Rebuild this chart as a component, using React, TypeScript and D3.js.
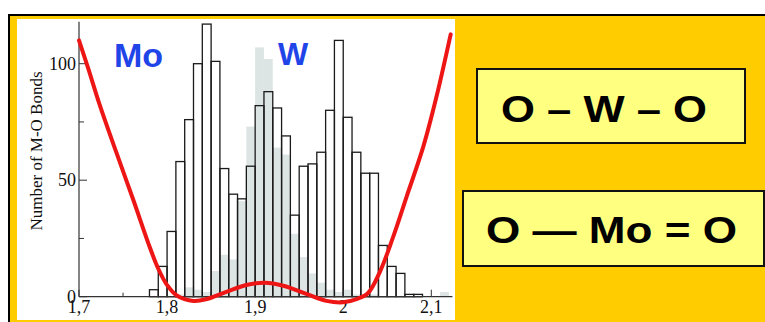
import React from "react";
import * as d3 from "d3";

// Histogram bins (left edge of each 0.01 Å bin)
const binLeft = [
  1.78, 1.79, 1.8, 1.81, 1.82, 1.83, 1.84, 1.85, 1.86, 1.87, 1.88, 1.89,
  1.9, 1.91, 1.92, 1.93, 1.94, 1.95, 1.96, 1.97, 1.98, 1.99, 2.0, 2.01,
  2.02, 2.03, 2.04, 2.05, 2.06, 2.07, 2.08, 2.09, 2.1, 2.11,
];
const binWidth = 0.01;
// outlined histogram
const outlinedCounts = [
  3, 13, 28, 58, 76, 100, 117, 101, 55, 44, 42, 56, 82, 88, 81, 69, 35, 56,
  57, 62, 80, 110, 77, 62, 53, 53, 22, 13, 10, 1, 1, 0, 0, 0,
];
// grey filled histogram
const greyCounts = [
  0, 0, 0, 1, 4, 3, 2, 11, 18, 16, 41, 73, 107, 102, 64, 61, 27, 17, 10, 6,
  3, 2, 3, 1, 1, 1, 0, 0, 0, 0, 0, 0, 0, 2,
];

// double-well curve
const curveX = [
  1.7, 1.71, 1.7238, 1.7428, 1.7617, 1.7806, 1.79, 1.8, 1.811, 1.83, 1.845,
  1.868, 1.89, 1.911, 1.932, 1.958, 1.981, 2.0, 2.015, 2.028, 2.042, 2.057,
  2.072, 2.091, 2.106, 2.122,
];
const curveY = [
  110, 98.5, 82, 61.5, 41.5, 21, 12, 5, 0.5, -1.8, -1, 2.2, 5, 6, 4.7, 1.2,
  -1.8, -2.4, -1.0, 1.5, 11, 26, 43, 64.5, 86, 112.6,
];

const xMajor = [1.7, 1.8, 1.9, 2.0, 2.1];
const xMajorLabels = ["1,7", "1,8", "1,9", "2", "2,1"];
const xMinor = [1.75, 1.85, 1.95, 2.05];
const yMajor = [0, 50, 100];
const yMajorLabels = ["0", "50", "100"];
const yMinor = [25, 75];

const yTitle = "Number of M-O Bonds";
const box1Text = "O – W – O";
const box2Text = "O — Mo = O";

export default function App() {
  const x = d3.scaleLinear().domain([1.7, 2.1]).range([79, 431.3]);
  const y = d3.scaleLinear().domain([0, 100]).range([296.7, 63.7]);
  const x0 = x(1.7);
  const y0 = y(0);
  const xEnd = x(2.124);
  const yTop = y(118);

  const line = d3
    .line<number>()
    .x((_, i) => x(curveX[i]))
    .y((d) => y(d))
    .curve(d3.curveCatmullRom.alpha(0.5));

  const serif = "'Liberation Serif', 'Times New Roman', serif";
  const sans = "'Liberation Sans', Arial, sans-serif";

  return (
    <div style={{ position: "fixed", left: 0, top: 0 }}>
      <svg width={765} height={322} style={{ display: "block" }}>
        <rect x={0} y={0} width={765} height={322} fill="#ffffff" />
        {/* orange slide background with black frame */}
        <rect x={8} y={14} width={757} height={308} fill="#FFCC00" />
        <line x1={8} y1={15} x2={765} y2={15} stroke="#000" strokeWidth={2} />
        <line x1={9} y1={14} x2={9} y2={322} stroke="#000" strokeWidth={2} />
        {/* white chart panel */}
        <rect x={17} y={19} width={438} height={301} fill="#ffffff" />

        {/* grey histogram */}
        {binLeft.map((b, i) =>
          greyCounts[i] > 0 ? (
            <rect
              key={"g" + i}
              x={x(b)}
              y={y(greyCounts[i])}
              width={x(b + binWidth) - x(b)}
              height={y0 - y(greyCounts[i])}
              fill="#dde4e4"
            />
          ) : null
        )}
        {/* outlined histogram */}
        {binLeft.map((b, i) =>
          outlinedCounts[i] > 0 ? (
            <rect
              key={"o" + i}
              x={x(b)}
              y={y(outlinedCounts[i])}
              width={x(b + binWidth) - x(b)}
              height={y0 - y(outlinedCounts[i])}
              fill="none"
              stroke="#1a1a1a"
              strokeWidth={1.3}
            />
          ) : null
        )}

        {/* axes */}
        <line x1={x0} y1={y0} x2={xEnd} y2={y0} stroke="#333" strokeWidth={1.2} />
        <line x1={x0} y1={y0} x2={x0} y2={yTop} stroke="#333" strokeWidth={1.2} />
        {xMajor.map((t) => (
          <line key={"xt" + t} x1={x(t)} x2={x(t)} y1={y0} y2={y0 - 7} stroke="#333" strokeWidth={1} />
        ))}
        {xMinor.map((t) => (
          <line key={"xm" + t} x1={x(t)} x2={x(t)} y1={y0} y2={y0 - 4} stroke="#333" strokeWidth={1} />
        ))}
        {yMajor.map((t) => (
          <line key={"yt" + t} x1={x0} x2={x0 + 8} y1={y(t)} y2={y(t)} stroke="#333" strokeWidth={1} />
        ))}
        {yMinor.map((t) => (
          <line key={"ym" + t} x1={x0} x2={x0 + 5} y1={y(t)} y2={y(t)} stroke="#333" strokeWidth={1} />
        ))}
        {xMajor.map((t, i) => (
          <text
            key={"xl" + t}
            x={x(t)}
            y={313}
            textAnchor="middle"
            fontFamily={serif}
            fontSize={18}
            fill="#111"
          >
            {xMajorLabels[i]}
          </text>
        ))}
        {yMajor.map((t, i) => (
          <text
            key={"yl" + t}
            x={x0 - 3}
            y={y(t) + 6}
            textAnchor="end"
            fontFamily={serif}
            fontSize={18}
            fill="#111"
          >
            {yMajorLabels[i]}
          </text>
        ))}
        <text
          transform={`translate(42,151) rotate(-90)`}
          textAnchor="middle"
          fontFamily={serif}
          fontSize={17}
          fill="#111"
        >
          {yTitle}
        </text>

        {/* potential curve */}
        <path d={line(curveY) || ""} fill="none" stroke="#ee1515" strokeWidth={4} strokeLinecap="round" strokeLinejoin="round" />

        {/* element labels */}
        <text x={114} y={67} fontFamily={sans} fontWeight="bold" fontSize={34} fill="#1f44e8">
          Mo
        </text>
        <text x={278} y={65} fontFamily={sans} fontWeight="bold" fontSize={32} fill="#1f44e8">
          W
        </text>

        {/* bond boxes */}
        <rect x={477} y={69} width={268} height={74} fill="#FFFF80" stroke="#111" strokeWidth={2} />
        <text
          x={501}
          y={121.5}
          textLength={206}
          lengthAdjust="spacingAndGlyphs"
          fontFamily={sans}
          fontWeight="bold"
          fontSize={37}
          fill="#000"
        >
          {box1Text}
        </text>
        <rect x={463} y={191} width={301} height={75} fill="#FFFF80" stroke="#111" strokeWidth={2} />
        <text
          x={486}
          y={243.3}
          textLength={251}
          lengthAdjust="spacingAndGlyphs"
          fontFamily={sans}
          fontWeight="bold"
          fontSize={37}
          fill="#000"
        >
          {box2Text}
        </text>
      </svg>
    </div>
  );
}
